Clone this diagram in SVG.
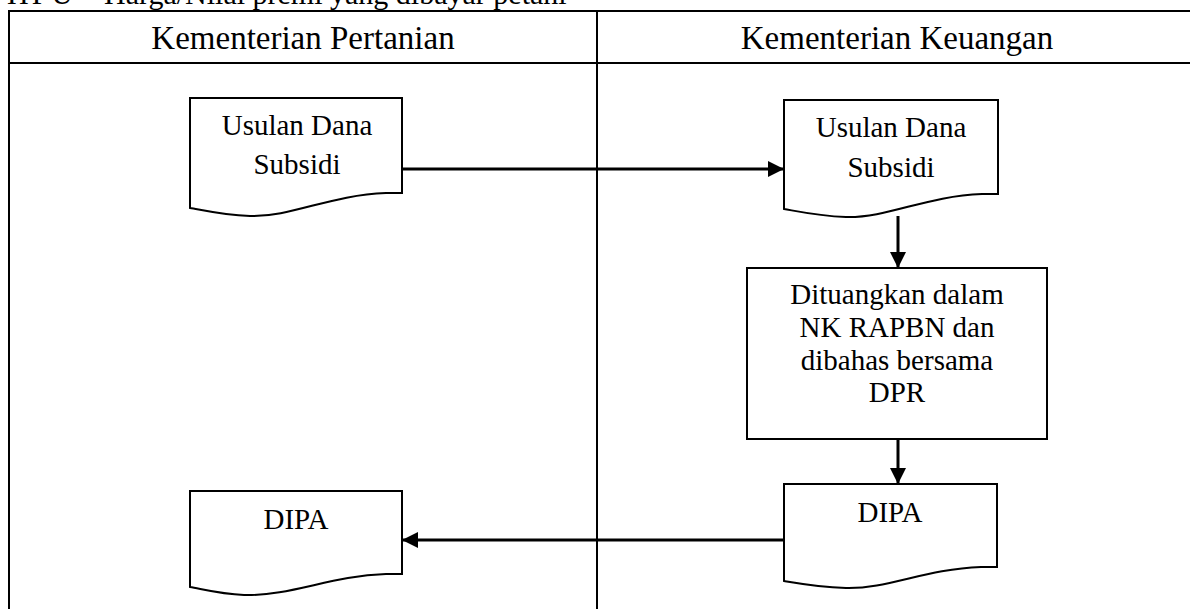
<svg xmlns="http://www.w3.org/2000/svg" width="1190" height="609" viewBox="0 0 1190 609">
<defs>
<style>
.t{font-family:"Liberation Serif","Times New Roman",serif;font-size:29px;fill:#000;text-anchor:middle}
.h{font-family:"Liberation Serif","Times New Roman",serif;font-size:33px;fill:#000;text-anchor:middle}
.top{font-family:"Liberation Serif","Times New Roman",serif;font-size:30px;fill:#000}
.shape{fill:#fff;stroke:#000;stroke-width:2}
.grid{stroke:#000;stroke-width:2;fill:none}
.conn{stroke:#000;stroke-width:3;fill:none}
</style>
<marker id="arr" markerWidth="16" markerHeight="16" viewBox="0 0 16 16" refX="16" refY="8" orient="auto" markerUnits="userSpaceOnUse">
<path d="M0,0 L16,8 L0,16 Z" fill="#000"/>
</marker>
</defs>
<rect width="1190" height="609" fill="#fff"/>
<text class="top" x="7" y="4"><tspan letter-spacing="3">HPU</tspan><tspan x="76">=</tspan><tspan x="104">Harga/Nilai premi yang dibayar petani</tspan></text>
<g id="table">
<path class="grid" d="M9,609 V11 H1190 M9,63 H1190 M597,11 V609"/>
<text class="h" x="303" y="49">Kementerian Pertanian</text>
<text class="h" x="897" y="49">Kementerian Keuangan</text>
</g>
<g id="usulan-left">
<path class="shape" d="M190,98 H402 V193 H386 C330,195 292,217 250,216 C222,215 202,210 190,208 Z"/>
<text class="t" x="297" y="135">Usulan Dana</text>
<text class="t" x="297" y="174">Subsidi</text>
</g>
<g id="usulan-right">
<path class="shape" d="M784,100 H998 V194 H982 C926,196 888,218 846,217 C818,216 796,211 784,209 Z"/>
<text class="t" x="891" y="137">Usulan Dana</text>
<text class="t" x="891" y="177">Subsidi</text>
</g>
<g id="proses">
<rect class="shape" x="747" y="268" width="300" height="171"/>
<text class="t" x="897" y="304">Dituangkan dalam</text>
<text class="t" x="897" y="337">NK RAPBN dan</text>
<text class="t" x="897" y="370">dibahas bersama</text>
<text class="t" x="897" y="402">DPR</text>
</g>
<g id="dipa-right">
<path class="shape" d="M784,484 H997 V567 H981 C925,569 888,589 846,588 C818,587 796,583 784,581 Z"/>
<text class="t" x="890" y="522">DIPA</text>
</g>
<g id="dipa-left">
<path class="shape" d="M190,491 H402 V574 H386 C330,576 292,596 244,595 C220,594 202,589 190,587 Z"/>
<text class="t" x="296" y="529">DIPA</text>
</g>
<g id="connectors">
<path class="conn" d="M402,169 H784" marker-end="url(#arr)"/>
<path class="conn" d="M898,216 V268" marker-end="url(#arr)"/>
<path class="conn" d="M898,439 V484" marker-end="url(#arr)"/>
<path class="conn" d="M784,540 H402" marker-end="url(#arr)"/>
</g>
</svg>
